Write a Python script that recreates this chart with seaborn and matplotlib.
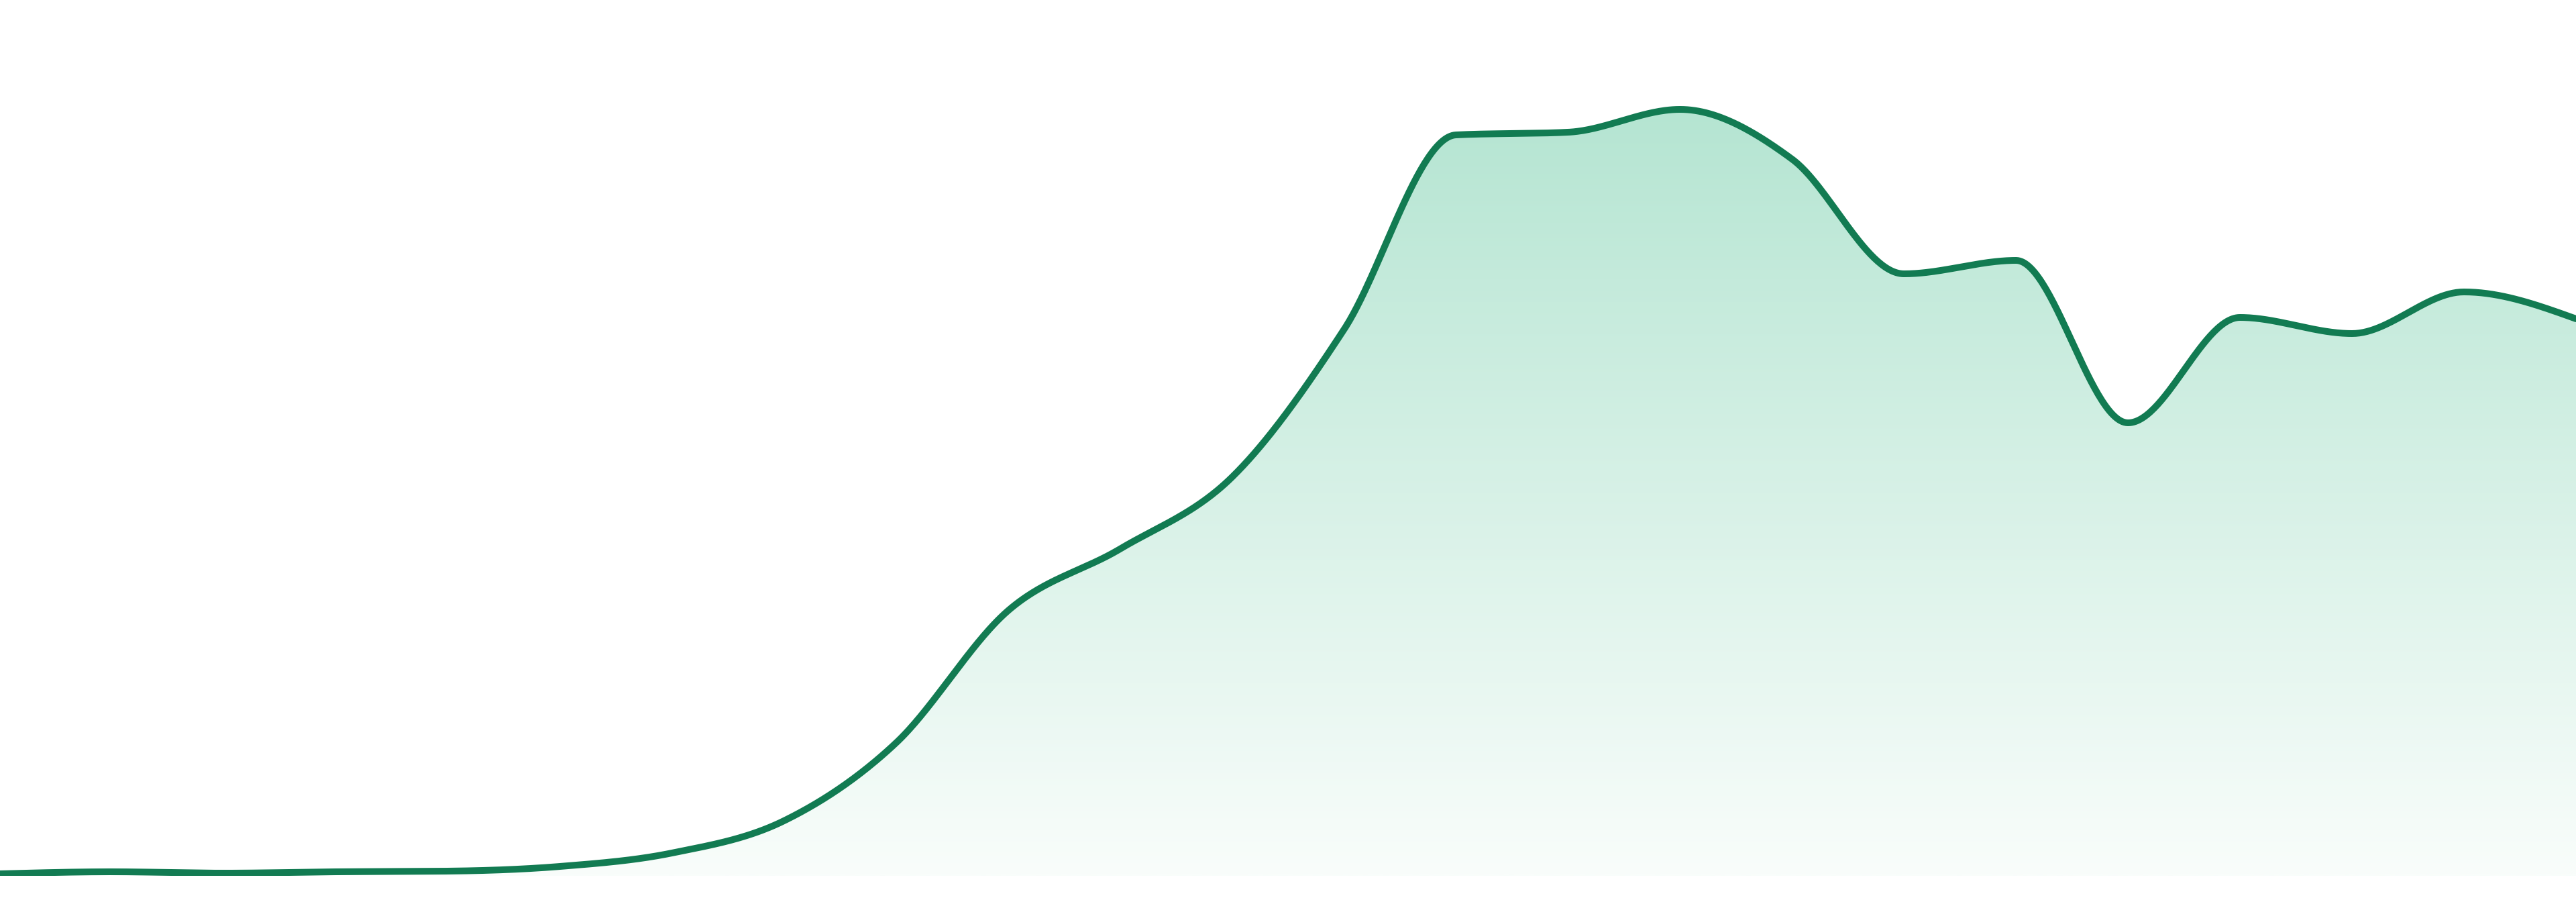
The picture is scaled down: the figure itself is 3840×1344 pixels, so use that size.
import numpy as np
import pandas as pd
import matplotlib
matplotlib.use("Agg")
import matplotlib.pyplot as plt
import seaborn as sns

# ---- data ----
steps = list(range(24))
values = [3, 6, 4, 6, 7, 14, 34, 82, 198, 395, 487, 594, 814,
          1104, 1108, 1142, 1068, 897, 917, 675, 832, 808, 870, 830]

LINE_COLOR = "#127B52"
TOP_FILL = np.array([181, 229, 210]) / 255.0
BOTTOM_FILL = np.array([249, 253, 251]) / 255.0


def monotone_x(xk, yk, per_seg=60):
    """d3.curveMonotoneX style cubic Hermite through the points."""
    xk = np.asarray(xk, float)
    yk = np.asarray(yk, float)
    n = len(xk)
    h = np.diff(xk)
    s = np.diff(yk) / h
    t = np.zeros(n)
    for i in range(1, n - 1):
        s0, s1 = s[i - 1], s[i]
        p = (s0 * h[i] + s1 * h[i - 1]) / (h[i - 1] + h[i])
        t[i] = (np.sign(s0) + np.sign(s1)) * min(abs(s0), abs(s1), 0.5 * abs(p))
    t[0] = (3 * s[0] - t[1]) / 2
    t[-1] = (3 * s[-1] - t[-2]) / 2
    xs, ys = [], []
    for i in range(n - 1):
        u = np.linspace(0, 1, per_seg, endpoint=(i == n - 2))
        h00 = 2 * u**3 - 3 * u**2 + 1
        h10 = u**3 - 2 * u**2 + u
        h01 = -2 * u**3 + 3 * u**2
        h11 = u**3 - u**2
        xs.append(xk[i] + u * h[i])
        ys.append(h00 * yk[i] + h10 * h[i] * t[i] + h01 * yk[i + 1] + h11 * h[i] * t[i + 1])
    return np.concatenate(xs), np.concatenate(ys)


xs, ys = monotone_x(steps, values)
df = pd.DataFrame({"step": xs, "value": ys})

sns.set_theme(style="white")
fig = plt.figure(figsize=(38.4, 13.44), dpi=100)
ax = fig.add_axes([0, 39 / 1344, 1, 1 - 39 / 1344])
ax.set_xlim(0, 23)
ax.set_ylim(0, 1305)

# gradient area fill clipped to the area under the curve
poly = ax.fill_between(df["step"], df["value"], 0, facecolor="none", edgecolor="none")
ymax = max(values)
nrow = 256
frac = np.linspace(1, 0, nrow)[:, None]  # top row -> 1
grad = BOTTOM_FILL[None, :] + (TOP_FILL - BOTTOM_FILL)[None, :] * frac
grad = np.repeat(grad[:, None, :], 2, axis=1)
im = ax.imshow(grad, extent=[0, 23, 0, ymax], aspect="auto", origin="upper",
               interpolation="bilinear", zorder=1)
im.set_clip_path(poly.get_paths()[0], transform=ax.transData)

sns.lineplot(data=df, x="step", y="value", ax=ax, color=LINE_COLOR,
             linewidth=7.2, zorder=3, sort=False, estimator=None)

ax.set_xlim(0, 23)
ax.set_ylim(0, 1305)
ax.set_axis_off()
fig.savefig("out.png", dpi=100, facecolor="white")
